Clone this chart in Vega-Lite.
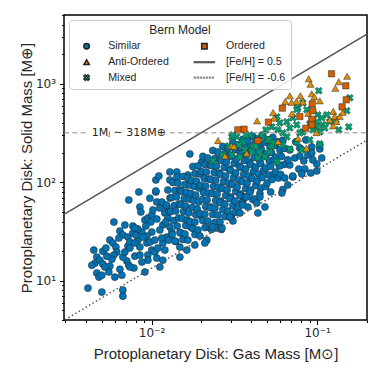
{
  "$schema": "https://vega.github.io/schema/vega-lite/v6.json",
  "width": 303,
  "height": 305,
  "autosize": {"type": "none"},
  "padding": {"left": 64, "top": 15, "right": 15, "bottom": 62},
  "background": "white",
  "config": {
    "view": {"stroke": "#000000", "strokeWidth": 1.5},
    "axis": {"grid": false, "domain": false, "tickColor": "#000000", "tickWidth": 1, "labelColor": "#262626", "titleColor": "#262626", "labelFont": "DejaVu Sans", "labelFontSize": 12, "titleFont": "Liberation Sans", "titleFontSize": 15, "titleFontWeight": "normal", "labelOverlap": false, "labelFlush": false, "labelBound": false},
    "legend": {"orient": "none", "legendX": 5, "legendY": 5, "columns": 2, "columnPadding": 21.8, "rowPadding": 3.4,
            "padding": 5, "symbolSize": 30, "symbolOffset": 7.3, "labelOffset": 16.3, "titleAnchor": "middle", "titlePadding": 3.5,
            "labelFont": "Liberation Sans", "labelFontSize": 10.6, "labelColor": "#262626",
            "titleFont": "Liberation Sans", "titleFontSize": 12, "titleFontWeight": "normal", "titleColor": "#262626",
            "strokeColor": "#cccccc", "fillColor": "rgba(255,255,255,0.85)", "cornerRadius": 3}
  },
  "datasets": {
    "points": [
      {"model":"Similar","gas":0.00413,"solid":8.43},{"model":"Similar","gas":0.00501,"solid":7.68},{"model":"Similar","gas":0.00671,"solid":8.05},{"model":"Similar","gas":0.00671,"solid":6.99},
      {"model":"Similar","gas":0.00448,"solid":20.5},{"model":"Similar","gas":0.00508,"solid":20.0},{"model":"Similar","gas":0.0053,"solid":21.5},{"model":"Similar","gas":0.00467,"solid":17.4},
      {"model":"Similar","gas":0.00455,"solid":15.1},{"model":"Similar","gas":0.00487,"solid":16.2},{"model":"Similar","gas":0.00436,"solid":14.4},{"model":"Similar","gas":0.00467,"solid":12.0},
      {"model":"Similar","gas":0.00481,"solid":10.9},{"model":"Similar","gas":0.00501,"solid":11.4},{"model":"Similar","gas":0.0056,"solid":25.9},{"model":"Similar","gas":0.00584,"solid":24.2},
      {"model":"Similar","gas":0.00609,"solid":22.0},{"model":"Similar","gas":0.00617,"solid":19.6},{"model":"Similar","gas":0.00592,"solid":18.25},{"model":"Similar","gas":0.00576,"solid":16.6},
      {"model":"Similar","gas":0.0056,"solid":14.1},{"model":"Similar","gas":0.00508,"solid":14.8},{"model":"Similar","gas":0.00523,"solid":13.8},{"model":"Similar","gas":0.00552,"solid":12.3},
      {"model":"Similar","gas":0.006,"solid":10.9},{"model":"Similar","gas":0.00644,"solid":13.1},{"model":"Similar","gas":0.00662,"solid":11.4},{"model":"Similar","gas":0.00709,"solid":15.9},
      {"model":"Similar","gas":0.00671,"solid":17.4},{"model":"Similar","gas":0.00592,"solid":39.5},{"model":"Similar","gas":0.00644,"solid":32.0},{"model":"Similar","gas":0.00671,"solid":29.2},
      {"model":"Similar","gas":0.0072,"solid":27.8},{"model":"Similar","gas":0.0072,"solid":22.5},{"model":"Similar","gas":0.0069,"solid":19.6},{"model":"Similar","gas":0.00635,"solid":27.2},
      {"model":"Similar","gas":0.00537,"solid":17.8},{"model":"Similar","gas":0.00729,"solid":14.4},{"model":"Similar","gas":0.0069,"solid":36.9},{"model":"Similar","gas":0.00771,"solid":30.6},
      {"model":"Similar","gas":0.00729,"solid":66.2},{"model":"Similar","gas":0.00838,"solid":79.8},{"model":"Similar","gas":0.0085,"solid":56.2},{"model":"Similar","gas":0.00911,"solid":41.4},
      {"model":"Similar","gas":0.0095,"solid":43.4},{"model":"Similar","gas":0.01004,"solid":46.6},{"model":"Similar","gas":0.0099,"solid":39.5},{"model":"Similar","gas":0.01076,"solid":42.4},
      {"model":"Similar","gas":0.01076,"solid":63.2},{"model":"Similar","gas":0.01019,"solid":52.4},{"model":"Similar","gas":0.01122,"solid":54.9},{"model":"Similar","gas":0.01154,"solid":63.2},
      {"model":"Similar","gas":0.01203,"solid":48.8},{"model":"Similar","gas":0.01237,"solid":56.2},{"model":"Similar","gas":0.0117,"solid":36.9},{"model":"Similar","gas":0.01255,"solid":43.4},
      {"model":"Similar","gas":0.0129,"solid":35.2},{"model":"Similar","gas":0.00827,"solid":25.9},{"model":"Similar","gas":0.01004,"solid":31.3},{"model":"Similar","gas":0.01122,"solid":32.8},
      {"model":"Similar","gas":0.01237,"solid":27.8},{"model":"Similar","gas":0.01326,"solid":31.3},{"model":"Similar","gas":0.0074,"solid":24.8},{"model":"Similar","gas":0.00793,"solid":24.2},
      {"model":"Similar","gas":0.0085,"solid":22.0},{"model":"Similar","gas":0.00937,"solid":24.2},{"model":"Similar","gas":0.00977,"solid":24.8},{"model":"Similar","gas":0.01004,"solid":20.5},
      {"model":"Similar","gas":0.0095,"solid":18.25},{"model":"Similar","gas":0.01047,"solid":19.6},{"model":"Similar","gas":0.01092,"solid":21.5},{"model":"Similar","gas":0.0117,"solid":24.2},
      {"model":"Similar","gas":0.01154,"solid":27.2},{"model":"Similar","gas":0.00911,"solid":12.3},{"model":"Similar","gas":0.01122,"solid":13.8},{"model":"Similar","gas":0.0095,"solid":16.2},
      {"model":"Similar","gas":0.00771,"solid":36.0},{"model":"Similar","gas":0.00924,"solid":36.0},{"model":"Similar","gas":0.00862,"solid":50.0},{"model":"Similar","gas":0.00937,"solid":28.5},
      {"model":"Similar","gas":0.01047,"solid":25.9},{"model":"Similar","gas":0.01076,"solid":17.0},{"model":"Similar","gas":0.01203,"solid":20.5},{"model":"Similar","gas":0.0117,"solid":16.2},
      {"model":"Similar","gas":0.00874,"solid":15.5},{"model":"Similar","gas":0.00793,"solid":17.8},{"model":"Similar","gas":0.01062,"solid":105.7},{"model":"Similar","gas":0.01107,"solid":116},
      {"model":"Similar","gas":0.01062,"solid":79.8},{"model":"Similar","gas":0.0085,"solid":18.25},{"model":"Similar","gas":0.0074,"solid":21.5},{"model":"Similar","gas":0.00782,"solid":13.5},
      {"model":"Similar","gas":0.0074,"solid":13.8},{"model":"Similar","gas":0.00804,"solid":29.2},{"model":"Similar","gas":0.00874,"solid":31.3},{"model":"Similar","gas":0.00886,"solid":27.8},
      {"model":"Similar","gas":0.00827,"solid":33.6},{"model":"Similar","gas":0.00793,"solid":34.3},
      {"model":"Similar","gas":0.0129,"solid":127.5},{"model":"Similar","gas":0.01421,"solid":127.5},{"model":"Similar","gas":0.01657,"solid":118.8},{"model":"Similar","gas":0.01751,"solid":100.9},
      {"model":"Similar","gas":0.0129,"solid":105.7},{"model":"Similar","gas":0.01421,"solid":113.4},{"model":"Similar","gas":0.01703,"solid":194.3},{"model":"Similar","gas":0.01482,"solid":22.0},
      {"model":"Similar","gas":0.01633,"solid":20.5},{"model":"Similar","gas":0.01825,"solid":23.07},{"model":"Similar","gas":0.02156,"solid":25.9},{"model":"Similar","gas":0.01877,"solid":31.3},
      {"model":"Similar","gas":0.01482,"solid":17.4},{"model":"Similar","gas":0.0201,"solid":161.2},{"model":"Similar","gas":0.01062,"solid":81.7},{"model":"Similar","gas":0.00977,"solid":68.8},
      {"model":"Similar","gas":0.01255,"solid":83.6},{"model":"Similar","gas":0.01293,"solid":69.3},{"model":"Similar","gas":0.0123,"solid":58.9},{"model":"Similar","gas":0.0128,"solid":50.0},{"model":"Similar","gas":0.01217,"solid":39.5},{"model":"Similar","gas":0.01268,"solid":25.9},
      {"model":"Similar","gas":0.01345,"solid":99.6},{"model":"Similar","gas":0.01385,"solid":82.7},{"model":"Similar","gas":0.01318,"solid":70.1},{"model":"Similar","gas":0.01372,"solid":58.2},{"model":"Similar","gas":0.01305,"solid":50.6},{"model":"Similar","gas":0.01358,"solid":40.9},{"model":"Similar","gas":0.01332,"solid":29.5},{"model":"Similar","gas":0.01399,"solid":25.1},
      {"model":"Similar","gas":0.01442,"solid":98.5},{"model":"Similar","gas":0.01485,"solid":83.6},{"model":"Similar","gas":0.01413,"solid":71.0},{"model":"Similar","gas":0.01471,"solid":60.3},{"model":"Similar","gas":0.01399,"solid":51.1},{"model":"Similar","gas":0.01456,"solid":43.4},{"model":"Similar","gas":0.01428,"solid":36.0},{"model":"Similar","gas":0.015,"solid":30.6},{"model":"Similar","gas":0.01384,"solid":25.3},
      {"model":"Similar","gas":0.01546,"solid":114.7},{"model":"Similar","gas":0.01592,"solid":95.0},{"model":"Similar","gas":0.01515,"solid":80.7},{"model":"Similar","gas":0.01577,"solid":68.6},{"model":"Similar","gas":0.015,"solid":59.6},{"model":"Similar","gas":0.01561,"solid":50.6},{"model":"Similar","gas":0.01531,"solid":42.9},{"model":"Similar","gas":0.01608,"solid":36.5},{"model":"Similar","gas":0.01484,"solid":30.9},{"model":"Similar","gas":0.01546,"solid":26.3},
      {"model":"Similar","gas":0.01657,"solid":110.7},{"model":"Similar","gas":0.01707,"solid":94.0},{"model":"Similar","gas":0.01624,"solid":79.8},{"model":"Similar","gas":0.0169,"solid":67.7},{"model":"Similar","gas":0.01607,"solid":57.5},{"model":"Similar","gas":0.01674,"solid":48.8},{"model":"Similar","gas":0.0164,"solid":41.4},{"model":"Similar","gas":0.01723,"solid":35.2},{"model":"Similar","gas":0.01591,"solid":29.8},{"model":"Similar","gas":0.01657,"solid":25.9},
      {"model":"Similar","gas":0.01776,"solid":145.0},{"model":"Similar","gas":0.01829,"solid":123.0},{"model":"Similar","gas":0.0174,"solid":104.4},{"model":"Similar","gas":0.01812,"solid":90.7},{"model":"Similar","gas":0.01723,"solid":77.0},{"model":"Similar","gas":0.01794,"solid":65.4},{"model":"Similar","gas":0.01758,"solid":55.4},{"model":"Similar","gas":0.01847,"solid":47.1},{"model":"Similar","gas":0.01705,"solid":40.0},{"model":"Similar","gas":0.01776,"solid":34.0},{"model":"Similar","gas":0.01829,"solid":29.5},
      {"model":"Similar","gas":0.01904,"solid":146.7},{"model":"Similar","gas":0.01961,"solid":121.6},{"model":"Similar","gas":0.01866,"solid":103.2},{"model":"Similar","gas":0.01942,"solid":87.6},{"model":"Similar","gas":0.01847,"solid":74.4},{"model":"Similar","gas":0.01923,"solid":63.2},{"model":"Similar","gas":0.01885,"solid":53.6},{"model":"Similar","gas":0.0198,"solid":45.5},{"model":"Similar","gas":0.01828,"solid":39.5},{"model":"Similar","gas":0.01904,"solid":32.8},{"model":"Similar","gas":0.01961,"solid":28.5},
      {"model":"Similar","gas":0.02041,"solid":183.3},{"model":"Similar","gas":0.02102,"solid":151.9},{"model":"Similar","gas":0.02,"solid":128.9},{"model":"Similar","gas":0.02082,"solid":109.5},{"model":"Similar","gas":0.0198,"solid":92.9},{"model":"Similar","gas":0.02061,"solid":78.9},{"model":"Similar","gas":0.02021,"solid":66.9},{"model":"Similar","gas":0.02123,"solid":56.9},{"model":"Similar","gas":0.01959,"solid":48.2},{"model":"Similar","gas":0.02041,"solid":40.9},{"model":"Similar","gas":0.02102,"solid":34.7},
      {"model":"Similar","gas":0.02188,"solid":176.9},{"model":"Similar","gas":0.02254,"solid":150.2},{"model":"Similar","gas":0.02144,"solid":127.5},{"model":"Similar","gas":0.02232,"solid":108.2},{"model":"Similar","gas":0.02122,"solid":91.8},{"model":"Similar","gas":0.0221,"solid":78.0},{"model":"Similar","gas":0.02166,"solid":66.2},{"model":"Similar","gas":0.02276,"solid":56.2},{"model":"Similar","gas":0.021,"solid":47.7},{"model":"Similar","gas":0.02188,"solid":40.5},{"model":"Similar","gas":0.02254,"solid":34.3},
      {"model":"Similar","gas":0.02345,"solid":210.8},{"model":"Similar","gas":0.02415,"solid":174.9},{"model":"Similar","gas":0.02298,"solid":148.4},{"model":"Similar","gas":0.02392,"solid":125.9},{"model":"Similar","gas":0.02275,"solid":106.9},{"model":"Similar","gas":0.02368,"solid":90.7},{"model":"Similar","gas":0.02322,"solid":77.0},{"model":"Similar","gas":0.02439,"solid":65.4},{"model":"Similar","gas":0.02251,"solid":55.4},{"model":"Similar","gas":0.02345,"solid":47.1},{"model":"Similar","gas":0.02415,"solid":39.1},{"model":"Similar","gas":0.02298,"solid":33.2},
      {"model":"Similar","gas":0.02514,"solid":203.6},{"model":"Similar","gas":0.02589,"solid":172.8},{"model":"Similar","gas":0.02464,"solid":146.7},{"model":"Similar","gas":0.02564,"solid":124.5},{"model":"Similar","gas":0.02439,"solid":105.7},{"model":"Similar","gas":0.02539,"solid":89.7},{"model":"Similar","gas":0.02489,"solid":76.2},{"model":"Similar","gas":0.02615,"solid":64.6},{"model":"Similar","gas":0.02413,"solid":54.9},{"model":"Similar","gas":0.02514,"solid":46.6},{"model":"Similar","gas":0.02589,"solid":39.5},{"model":"Similar","gas":0.02464,"solid":34.3},
      {"model":"Similar","gas":0.02695,"solid":231.5},{"model":"Similar","gas":0.02776,"solid":196.5},{"model":"Similar","gas":0.02641,"solid":166.9},{"model":"Similar","gas":0.02749,"solid":141.6},{"model":"Similar","gas":0.02614,"solid":120.1},{"model":"Similar","gas":0.02722,"solid":102.0},{"model":"Similar","gas":0.02668,"solid":86.6},{"model":"Similar","gas":0.02803,"solid":73.5},{"model":"Similar","gas":0.02587,"solid":62.4},{"model":"Similar","gas":0.02695,"solid":52.9},{"model":"Similar","gas":0.02776,"solid":44.9},{"model":"Similar","gas":0.02641,"solid":33.2},
      {"model":"Similar","gas":0.02889,"solid":223.6},{"model":"Similar","gas":0.02976,"solid":189.8},{"model":"Similar","gas":0.02831,"solid":161.2},{"model":"Similar","gas":0.02947,"solid":136.8},{"model":"Similar","gas":0.02802,"solid":116.0},{"model":"Similar","gas":0.02918,"solid":98.5},{"model":"Similar","gas":0.0286,"solid":83.6},{"model":"Similar","gas":0.03005,"solid":71.0},{"model":"Similar","gas":0.02773,"solid":60.3},{"model":"Similar","gas":0.02889,"solid":51.1},{"model":"Similar","gas":0.02976,"solid":44.4},
      {"model":"Similar","gas":0.03097,"solid":254.2},{"model":"Similar","gas":0.0319,"solid":215.8},{"model":"Similar","gas":0.03035,"solid":183.3},{"model":"Similar","gas":0.03159,"solid":155.5},{"model":"Similar","gas":0.03004,"solid":131.9},{"model":"Similar","gas":0.03128,"solid":112.0},{"model":"Similar","gas":0.03066,"solid":95.0},{"model":"Similar","gas":0.03221,"solid":80.7},{"model":"Similar","gas":0.02973,"solid":68.6},{"model":"Similar","gas":0.03097,"solid":58.2},{"model":"Similar","gas":0.0319,"solid":49.4},{"model":"Similar","gas":0.03035,"solid":43.9},
      {"model":"Similar","gas":0.0332,"solid":239.9},{"model":"Similar","gas":0.0342,"solid":203.6},{"model":"Similar","gas":0.03254,"solid":172.8},{"model":"Similar","gas":0.03386,"solid":146.7},{"model":"Similar","gas":0.0322,"solid":124.5},{"model":"Similar","gas":0.03353,"solid":105.7},{"model":"Similar","gas":0.03287,"solid":89.7},{"model":"Similar","gas":0.03453,"solid":76.2},{"model":"Similar","gas":0.03187,"solid":64.6},{"model":"Similar","gas":0.0332,"solid":54.9},{"model":"Similar","gas":0.0342,"solid":48.8},
      {"model":"Similar","gas":0.0310,"solid":40.5},{"model":"Similar","gas":0.0266,"solid":34.3},{"model":"Similar","gas":0.0234,"solid":35.2},{"model":"Similar","gas":0.02098,"solid":24.2},{"model":"Similar","gas":0.0297,"solid":44.4},
      {"model":"Similar","gas":0.03559,"solid":272.8},{"model":"Similar","gas":0.03666,"solid":231.5},{"model":"Similar","gas":0.03488,"solid":196.5},{"model":"Similar","gas":0.0363,"solid":166.9},{"model":"Similar","gas":0.03452,"solid":141.6},{"model":"Similar","gas":0.03595,"solid":120.1},{"model":"Similar","gas":0.03523,"solid":102.0},{"model":"Similar","gas":0.03701,"solid":86.6},{"model":"Similar","gas":0.03417,"solid":73.5},{"model":"Similar","gas":0.03559,"solid":63.9},
      {"model":"Similar","gas":0.03815,"solid":263.4},{"model":"Similar","gas":0.03929,"solid":223.6},{"model":"Similar","gas":0.03739,"solid":189.8},{"model":"Similar","gas":0.03891,"solid":161.2},{"model":"Similar","gas":0.03701,"solid":136.8},{"model":"Similar","gas":0.03853,"solid":116.0},{"model":"Similar","gas":0.03777,"solid":98.5},{"model":"Similar","gas":0.03968,"solid":83.6},{"model":"Similar","gas":0.03662,"solid":71.0},{"model":"Similar","gas":0.03815,"solid":56.2},
      {"model":"Similar","gas":0.04089,"solid":292.6},{"model":"Similar","gas":0.04212,"solid":248.4},{"model":"Similar","gas":0.04007,"solid":210.8},{"model":"Similar","gas":0.04171,"solid":179.0},{"model":"Similar","gas":0.03966,"solid":151.9},{"model":"Similar","gas":0.0413,"solid":128.9},{"model":"Similar","gas":0.04048,"solid":109.5},{"model":"Similar","gas":0.04253,"solid":92.9},{"model":"Similar","gas":0.03925,"solid":78.9},{"model":"Similar","gas":0.04089,"solid":66.9},
      {"model":"Similar","gas":0.04384,"solid":276.1},{"model":"Similar","gas":0.04516,"solid":234.3},{"model":"Similar","gas":0.04296,"solid":198.9},{"model":"Similar","gas":0.04472,"solid":168.9},{"model":"Similar","gas":0.04252,"solid":143.3},{"model":"Similar","gas":0.04428,"solid":121.6},{"model":"Similar","gas":0.0434,"solid":103.2},{"model":"Similar","gas":0.04559,"solid":87.6},{"model":"Similar","gas":0.04209,"solid":67.7},{"model":"Similar","gas":0.04384,"solid":48.8},
      {"model":"Similar","gas":0.04699,"solid":299.6},{"model":"Similar","gas":0.0484,"solid":254.2},{"model":"Similar","gas":0.04605,"solid":215.8},{"model":"Similar","gas":0.04793,"solid":183.3},{"model":"Similar","gas":0.04558,"solid":155.5},{"model":"Similar","gas":0.04746,"solid":131.9},{"model":"Similar","gas":0.04652,"solid":112.0},{"model":"Similar","gas":0.04887,"solid":90.7},{"model":"Similar","gas":0.04511,"solid":77.0},
      {"model":"Similar","gas":0.05037,"solid":269.7},{"model":"Similar","gas":0.05188,"solid":228.9},{"model":"Similar","gas":0.04936,"solid":194.3},{"model":"Similar","gas":0.05138,"solid":165.0},{"model":"Similar","gas":0.04886,"solid":140.0},{"model":"Similar","gas":0.05087,"solid":118.8},{"model":"Similar","gas":0.04987,"solid":98.5},{"model":"Similar","gas":0.05238,"solid":79.8},{"model":"Similar","gas":0.04836,"solid":56.2},
      {"model":"Similar","gas":0.054,"solid":285.8},{"model":"Similar","gas":0.05562,"solid":237.0},{"model":"Similar","gas":0.05292,"solid":201.2},{"model":"Similar","gas":0.05508,"solid":170.8},{"model":"Similar","gas":0.05238,"solid":145.0},{"model":"Similar","gas":0.05454,"solid":120.1},{"model":"Similar","gas":0.05346,"solid":106.9},
      {"model":"Similar","gas":0.05789,"solid":257.4},{"model":"Similar","gas":0.05963,"solid":213.4},{"model":"Similar","gas":0.05673,"solid":181.1},{"model":"Similar","gas":0.05905,"solid":150.2},{"model":"Similar","gas":0.05615,"solid":127.5},{"model":"Similar","gas":0.05847,"solid":110.7},
      {"model":"Similar","gas":0.06205,"solid":266.5},{"model":"Similar","gas":0.06391,"solid":220.9},{"model":"Similar","gas":0.06081,"solid":183.3},{"model":"Similar","gas":0.06329,"solid":151.9},{"model":"Similar","gas":0.06019,"solid":120.1},{"model":"Similar","gas":0.06205,"solid":84.6},
      {"model":"Similar","gas":0.0432,"solid":61.7},{"model":"Similar","gas":0.0451,"solid":71.0},{"model":"Similar","gas":0.035,"solid":61.7},{"model":"Similar","gas":0.0354,"solid":58.9},{"model":"Similar","gas":0.0374,"solid":71.0},
      {"model":"Similar","gas":0.06652,"solid":94.0},{"model":"Similar","gas":0.06378,"solid":110.7},{"model":"Similar","gas":0.07131,"solid":113.4},{"model":"Similar","gas":0.07747,"solid":136.8},
      {"model":"Similar","gas":0.08422,"solid":136.8},{"model":"Similar","gas":0.08076,"solid":121.6},{"model":"Similar","gas":0.08304,"solid":165.0},{"model":"Similar","gas":0.09154,"solid":124.5},
      {"model":"Similar","gas":0.09949,"solid":130.5},{"model":"Similar","gas":0.09949,"solid":153.8},{"model":"Similar","gas":0.1037,"solid":218.4},{"model":"Similar","gas":0.1037,"solid":239.9},
      {"model":"Similar","gas":0.09281,"solid":228.9},{"model":"Similar","gas":0.06837,"solid":213.4},{"model":"Similar","gas":0.07329,"solid":176.9},{"model":"Similar","gas":0.07856,"solid":223.6},
      {"model":"Similar","gas":0.06837,"solid":150.2},{"model":"Similar","gas":0.07431,"solid":257.4},{"model":"Similar","gas":0.08784,"solid":189.8},{"model":"Similar","gas":0.0854,"solid":269.7},
      {"model":"Similar","gas":0.09416,"solid":168.9},{"model":"Similar","gas":0.07856,"solid":185.4},{"model":"Similar","gas":0.0928,"solid":198.9},{"model":"Similar","gas":0.0665,"solid":168.9},
      {"model":"Similar","gas":0.0595,"solid":146.7},{"model":"Similar","gas":0.1066,"solid":176.9},{"model":"Similar","gas":0.0712,"solid":116.0},{"model":"Similar","gas":0.0612,"solid":78.0},
      {"model":"Mixed","gas":0.1023,"solid":850},{"model":"Mixed","gas":0.1574,"solid":721},{"model":"Mixed","gas":0.151,"solid":532},{"model":"Mixed","gas":0.1552,"solid":365.7},
      {"model":"Mixed","gas":0.1351,"solid":340.9},{"model":"Mixed","gas":0.1296,"solid":430.8},{"model":"Mixed","gas":0.1192,"solid":411},{"model":"Mixed","gas":0.1143,"solid":484.4},
      {"model":"Mixed","gas":0.0819,"solid":641},{"model":"Mixed","gas":0.0764,"solid":570.6},{"model":"Mixed","gas":0.0866,"solid":544.5},{"model":"Mixed","gas":0.0713,"solid":451.5},
      {"model":"Mixed","gas":0.1009,"solid":484.4},{"model":"Mixed","gas":0.1066,"solid":451.5},{"model":"Mixed","gas":0.0995,"solid":411},{"model":"Mixed","gas":0.1082,"solid":383.2},
      {"model":"Mixed","gas":0.0995,"solid":365.7},{"model":"Mixed","gas":0.0942,"solid":340.9},{"model":"Mixed","gas":0.1037,"solid":325.3},{"model":"Mixed","gas":0.0571,"solid":462.2},
      {"model":"Mixed","gas":0.0656,"solid":411},{"model":"Mixed","gas":0.0753,"solid":383.2},{"model":"Mixed","gas":0.0595,"solid":401.5},{"model":"Mixed","gas":0.0532,"solid":365.7},
      {"model":"Mixed","gas":0.049,"solid":340.9},{"model":"Mixed","gas":0.0579,"solid":340.9},{"model":"Mixed","gas":0.0684,"solid":357},{"model":"Mixed","gas":0.0819,"solid":325.3},
      {"model":"Mixed","gas":0.047,"solid":303.2},{"model":"Mixed","gas":0.0392,"solid":303.2},{"model":"Mixed","gas":0.0327,"solid":289.3},{"model":"Mixed","gas":0.0305,"solid":289.3},
      {"model":"Mixed","gas":0.0356,"solid":257.4},{"model":"Mixed","gas":0.0497,"solid":269.7},{"model":"Mixed","gas":0.0656,"solid":289.3},{"model":"Mixed","gas":0.0753,"solid":257.4},
      {"model":"Mixed","gas":0.0903,"solid":269.7},{"model":"Mixed","gas":0.0532,"solid":234.3},{"model":"Mixed","gas":0.0621,"solid":239.9},{"model":"Mixed","gas":0.0366,"solid":213.4},
      {"model":"Mixed","gas":0.0409,"solid":228.9},{"model":"Mixed","gas":0.0684,"solid":218.4},{"model":"Mixed","gas":0.0808,"solid":213.4},{"model":"Mixed","gas":0.0451,"solid":203.6},
      {"model":"Mixed","gas":0.031,"solid":303.2},{"model":"Mixed","gas":0.0293,"solid":234.3},{"model":"Mixed","gas":0.0336,"solid":239.9},{"model":"Mixed","gas":0.0403,"solid":203.6},
      {"model":"Mixed","gas":0.0426,"solid":234.3},{"model":"Mixed","gas":0.0235,"solid":165.0},{"model":"Mixed","gas":0.0269,"solid":189.8},{"model":"Mixed","gas":0.0371,"solid":303.2},
      {"model":"Mixed","gas":0.0463,"solid":296.2},{"model":"Mixed","gas":0.0511,"solid":269.7},{"model":"Mixed","gas":0.0571,"solid":161.2},{"model":"Mixed","gas":0.0518,"solid":203.6},
      {"model":"Mixed","gas":0.0547,"solid":251.4},{"model":"Mixed","gas":0.0305,"solid":189.8},{"model":"Mixed","gas":0.1112,"solid":357},{"model":"Mixed","gas":0.1037,"solid":245.6},
      {"model":"Mixed","gas":0.0753,"solid":544.5},{"model":"Mixed","gas":0.0438,"solid":176.9},{"model":"Mixed","gas":0.0341,"solid":181.1},{"model":"Mixed","gas":0.0483,"solid":181.1},
      {"model":"Mixed","gas":0.0786,"solid":317.7},{"model":"Mixed","gas":0.0621,"solid":317.7},{"model":"Mixed","gas":0.0903,"solid":392},
      {"model":"Anti-Ordered","gas":0.089,"solid":1125},{"model":"Anti-Ordered","gas":0.0912,"solid":990},{"model":"Anti-Ordered","gas":0.1517,"solid":1194},{"model":"Anti-Ordered","gas":0.1351,"solid":1049},
      {"model":"Anti-Ordered","gas":0.1287,"solid":901},{"model":"Anti-Ordered","gas":0.0684,"solid":756},{"model":"Anti-Ordered","gas":0.0792,"solid":756},{"model":"Anti-Ordered","gas":0.0928,"solid":792},
      {"model":"Anti-Ordered","gas":0.0962,"solid":738},{"model":"Anti-Ordered","gas":0.075,"solid":661},{"model":"Anti-Ordered","gas":0.07,"solid":649},{"model":"Anti-Ordered","gas":0.0642,"solid":664},
      {"model":"Anti-Ordered","gas":0.0819,"solid":656.7},{"model":"Anti-Ordered","gas":0.1037,"solid":672},{"model":"Anti-Ordered","gas":0.0542,"solid":511},{"model":"Anti-Ordered","gas":0.0434,"solid":420.8},
      {"model":"Anti-Ordered","gas":0.0549,"solid":447.9},{"model":"Anti-Ordered","gas":0.1252,"solid":525.7},{"model":"Anti-Ordered","gas":0.1276,"solid":467.7},{"model":"Anti-Ordered","gas":0.137,"solid":467.7},
      {"model":"Anti-Ordered","gas":0.1308,"solid":413.9},{"model":"Anti-Ordered","gas":0.1192,"solid":430.8},{"model":"Anti-Ordered","gas":0.1248,"solid":374.3},{"model":"Anti-Ordered","gas":0.1429,"solid":513.5},
      {"model":"Anti-Ordered","gas":0.0884,"solid":501.4},{"model":"Anti-Ordered","gas":0.0304,"solid":234.3},{"model":"Anti-Ordered","gas":0.0581,"solid":259.2},{"model":"Anti-Ordered","gas":0.0767,"solid":280.6},
      {"model":"Anti-Ordered","gas":0.0862,"solid":222.0},{"model":"Anti-Ordered","gas":0.0252,"solid":265.3},{"model":"Anti-Ordered","gas":0.0278,"solid":185.4},{"model":"Anti-Ordered","gas":0.0375,"solid":197.5},
      {"model":"Anti-Ordered","gas":0.0314,"solid":231.6},{"model":"Anti-Ordered","gas":0.0703,"solid":495.8},{"model":"Anti-Ordered","gas":0.0991,"solid":320},
      {"model":"Ordered","gas":0.1221,"solid":1265},{"model":"Ordered","gas":0.1489,"solid":955},{"model":"Ordered","gas":0.1499,"solid":688.2},{"model":"Ordered","gas":0.1414,"solid":584},
      {"model":"Ordered","gas":0.0942,"solid":531.9},{"model":"Ordered","gas":0.0934,"solid":626.6},{"model":"Ordered","gas":0.0616,"solid":566.6},{"model":"Ordered","gas":0.0786,"solid":465.5},
      {"model":"Ordered","gas":0.0928,"solid":435.8},{"model":"Ordered","gas":0.0928,"solid":383.2},{"model":"Ordered","gas":0.0854,"solid":354.4},{"model":"Ordered","gas":0.0508,"solid":408.3},
      {"model":"Ordered","gas":0.0362,"solid":346.3},{"model":"Ordered","gas":0.0332,"solid":340.9},{"model":"Ordered","gas":0.0438,"solid":264.7}
    ],
    "fehlines": [
      {"model":"[Fe/H] = 0.5","gas":0.00296,"solid":47.4},{"model":"[Fe/H] = 0.5","gas":0.2,"solid":3200},
      {"model":"[Fe/H] = -0.6","gas":0.003,"solid":4.02},{"model":"[Fe/H] = -0.6","gas":0.2,"solid":268}
    ],
    "jupiter": [
      {"gas":0.00296,"gas2":0.00412,"solid":318},{"gas":0.0129,"gas2":0.2,"solid":318}
    ],
    "jlabel": [
      {"gas":0.00729,"solid":318,"label":"1Mⱼ ∼ 318M⊕"}
    ]
  },
  "layer": [
    {
      "data": {"name": "points"},
      "mark": {"type": "point", "filled": true, "strokeWidth": 0.5, "opacity": 1},
      "encoding": {
        "x": {"field": "gas", "type": "quantitative", "scale": {"type": "log", "domain": [0.00296, 0.2], "nice": false},
          "axis": {"title": "Protoplanetary Disk: Gas Mass [M⊙]", "values": [0.003,0.004,0.005,0.006,0.007,0.008,0.009,0.01,0.02,0.03,0.04,0.05,0.06,0.07,0.08,0.09,0.1,0.2],
            "labelExpr": "datum.value == 0.01 ? '10⁻²' : (datum.value == 0.1 ? '10⁻¹' : '')",
            "tickSize": {"condition": {"test": "datum.value == 0.01 || datum.value == 0.1", "value": 4.5}, "value": 2.5},
            "labelPadding": 3, "titlePadding": 8}},
        "y": {"field": "solid", "type": "quantitative", "scale": {"type": "log", "domain": [4, 5000], "nice": false},
          "axis": {"title": "Protoplanetary Disk: Solid Mass [M⊕]", "values": [4,5,6,7,8,9,10,20,30,40,50,60,70,80,90,100,200,300,400,500,600,700,800,900,1000,2000,3000,4000,5000],
            "labelExpr": "datum.value == 10 ? '10¹' : (datum.value == 100 ? '10²' : (datum.value == 1000 ? '10³' : ''))",
            "tickSize": {"condition": {"test": "datum.value == 10 || datum.value == 100 || datum.value == 1000", "value": 4.5}, "value": 2.5},
            "labelPadding": 4, "titlePadding": 1}},
        "color": {"field": "model", "type": "nominal",
          "scale": {"domain": ["Similar", "Anti-Ordered", "Mixed", "Ordered", "[Fe/H] = 0.5", "[Fe/H] = -0.6"],
                    "range": ["#0173b2", "#de8f05", "#029e73", "#d55e00", "#5a5a5a", "#8a8a8a"]},
          "legend": {"title": "Bern Model"}},
        "stroke": {"field": "model", "type": "nominal",
          "scale": {"domain": ["Similar", "Anti-Ordered", "Mixed", "Ordered", "[Fe/H] = 0.5", "[Fe/H] = -0.6"],
                    "range": ["#222222", "#222222", "#1e3a30", "#222222", "#5a5a5a", "#8a8a8a"]},
          "legend": {"title": "Bern Model"}},
        "shape": {"field": "model", "type": "nominal",
          "scale": {"domain": ["Similar", "Anti-Ordered", "Mixed", "Ordered", "[Fe/H] = 0.5", "[Fe/H] = -0.6"],
                    "range": ["circle", "triangle-up", "M-0.5,-1L0,-0.5L0.5,-1L1,-0.5L0.5,0L1,0.5L0.5,1L0,0.5L-0.5,1L-1,0.5L-0.5,0L-1,-0.5Z", "square",
                              "M-3.65,-0.13L3.65,-0.13L3.65,0.13L-3.65,0.13Z",
                              "M-3.65,-0.13h0.26v0.26h-0.26ZM-2.55,-0.13h0.26v0.26h-0.26ZM-1.45,-0.13h0.26v0.26h-0.26ZM-0.35,-0.13h0.26v0.26h-0.26ZM0.75,-0.13h0.26v0.26h-0.26ZM1.85,-0.13h0.26v0.26h-0.26ZM2.95,-0.13h0.26v0.26h-0.26Z"]},
          "legend": {"title": "Bern Model"}},
        "size": {"condition": {"test": "datum.model == 'Ordered'", "value": 40}, "value": 50}
      }
    },
    {
      "data": {"name": "fehlines"},
      "transform": [{"filter": "datum.model == '[Fe/H] = 0.5'"}],
      "mark": {"type": "line", "color": "#555555", "strokeWidth": 1.5, "clip": true},
      "encoding": {"x": {"field": "gas", "type": "quantitative"}, "y": {"field": "solid", "type": "quantitative"}}
    },
    {
      "data": {"name": "fehlines"},
      "transform": [{"filter": "datum.model == '[Fe/H] = -0.6'"}],
      "mark": {"type": "line", "color": "#555555", "strokeWidth": 1.5, "strokeDash": [1.5, 2.5], "clip": true},
      "encoding": {"x": {"field": "gas", "type": "quantitative"}, "y": {"field": "solid", "type": "quantitative"}}
    },
    {
      "data": {"name": "jupiter"},
      "mark": {"type": "rule", "color": "#8c8c8c", "strokeWidth": 1, "strokeDash": [5, 3.3]},
      "encoding": {"x": {"field": "gas", "type": "quantitative"}, "x2": {"field": "gas2"}, "y": {"field": "solid", "type": "quantitative"}}
    },
    {
      "data": {"name": "jlabel"},
      "mark": {"type": "text", "font": "DejaVu Sans", "fontSize": 11, "color": "#262626", "align": "center", "baseline": "middle"},
      "encoding": {"x": {"field": "gas", "type": "quantitative"}, "y": {"field": "solid", "type": "quantitative"}, "text": {"field": "label"}}
    }
  ]
}
